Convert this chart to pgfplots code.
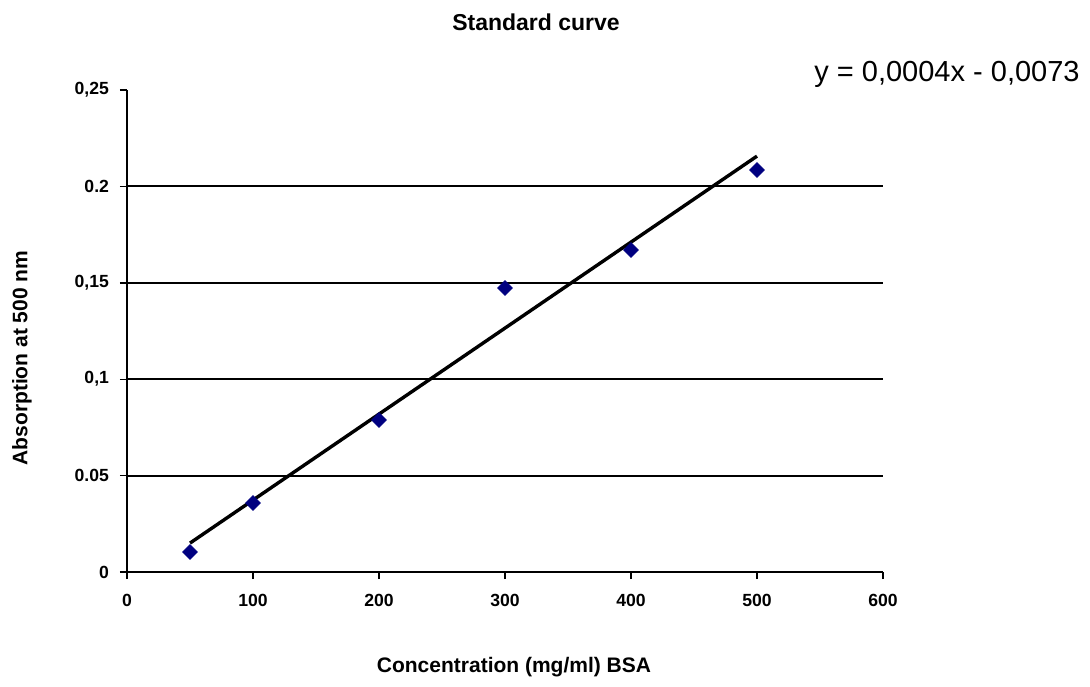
\documentclass[border=0pt]{standalone}
\usepackage{pgfplots}
\pgfplotsset{compat=1.18}
\usepackage{fontspec}
\setmainfont{Liberation Sans}
\definecolor{navy}{RGB}{0,0,128}

\begin{document}
\begin{tikzpicture}
% page frame: 1090x686 px at 0.5pt per px, axis origin at px (127,572)
\useasboundingbox (-63.5pt,-57pt) rectangle (481.5pt,286pt);
\begin{axis}[
    at={(0,0)}, anchor=south west,
    scale only axis,
    width=378pt, height=241pt,
    xmin=0, xmax=600, ymin=0, ymax=0.25,
    xtick={0,100,200,300,400,500,600},
    ytick={0,0.05,0.1,0.15,0.2},
    yticklabels={0,0.05,0{,}1,0{,}15,0.2},
    extra y ticks={0.25},
    extra y tick labels={0{,}25},
    extra y tick style={grid=none},
    axis x line*=bottom, axis y line*=left,
    axis line style={black, line width=0.8pt},
    tick style={black, line width=0.7pt},
    tick align=outside,
    major tick length=3.5pt,
    ymajorgrids,
    grid style={black, line width=1pt},
    ticklabel style={font=\fontsize{8.8}{10}\selectfont\bfseries},
    /pgf/number format/assume math mode=true,
    xticklabel style={yshift=-4pt},
    yticklabel style={xshift=-2pt},
    clip=false,
]
% linear trendline y = 0.0004x - 0.0073
\addplot[black, line width=1.7pt] coordinates {(50,0.0150) (500,0.2157)};
% measured standards
\addplot[only marks, mark=square*, mark size=2.6pt, color=navy,
    every mark/.append style={rotate=45}]
    coordinates {(50,0.0104) (100,0.0358) (200,0.0788) (300,0.1473) (400,0.1670) (500,0.2085)};
\end{axis}
\node[font=\fontsize{11.5}{13}\selectfont\bfseries] at (204.5pt,275pt) {Standard curve};
\node[font=\fontsize{14.5}{16}\selectfont] at (410pt,249pt) {y = 0,0004x - 0,0073};
\node[font=\fontsize{10.5}{12}\selectfont\bfseries] at (193.5pt,-47.5pt) {Concentration (mg/ml) BSA};
\node[font=\fontsize{10.5}{12}\selectfont\bfseries, rotate=90] at (-52.5pt,107pt) {Absorption at 500 nm};
\end{tikzpicture}
\end{document}
